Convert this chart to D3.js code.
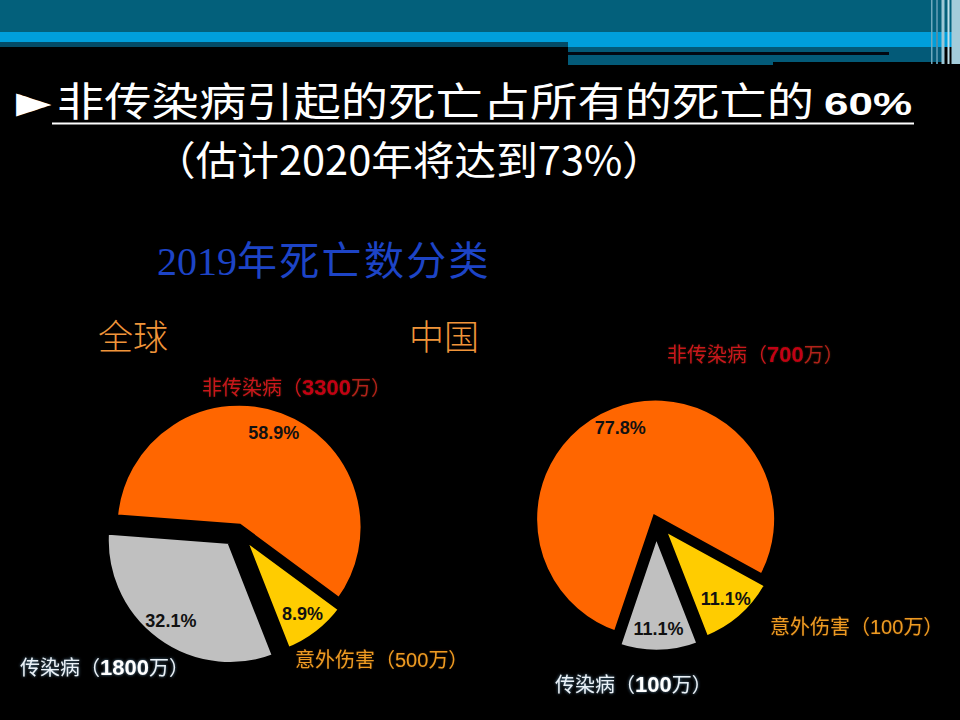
<!DOCTYPE html>
<html>
<head>
<meta charset="utf-8">
<script src="https://cdn.jsdelivr.net/npm/d3@7"></script>
<style>
  html, body { margin: 0; padding: 0; background: #000; }
  svg { display: block; }
</style>
</head>
<body>
<svg id="chart" width="960" height="720"></svg>
<script>
// ---- data ----
const categories = ['非传染病', '意外伤害', '传染病'];
const globalValues = [3300, 500, 1800];      // 万
const chinaValues = [700, 100, 100];         // 万
const globalPct = ['58.9%', '8.9%', '32.1%'];
const chinaPct = ['77.8%', '11.1%', '11.1%'];
const sliceColors = ['#FF6600', '#FFCC00', '#C0C0C0'];
const titleMain = '非传染病引起的死亡占所有的死亡的';
const titleMainPct = '60%';
const titleSub = '（估计2020年将达到73%）';
const chartTitle = '2019年死亡数分类';
const regionNames = ['全球', '中国'];

const svg = d3.select('#chart');
const CJK = '"Noto Sans CJK SC", "Noto Sans", sans-serif';

// background
svg.append('rect').attr('width', 960).attr('height', 720).attr('fill', '#000');

// ---- header decoration ----
const hdr = svg.append('g');
hdr.append('rect').attr('x', 0).attr('y', 0).attr('width', 960).attr('height', 32).attr('fill', '#03607B');
hdr.append('rect').attr('x', 0).attr('y', 32).attr('width', 960).attr('height', 10).attr('fill', '#009FDB');
hdr.append('rect').attr('x', 0).attr('y', 42).attr('width', 568).attr('height', 5).attr('fill', '#034B66');
hdr.append('rect').attr('x', 568).attr('y', 42).attr('width', 392).attr('height', 5).attr('fill', '#009FDB');
hdr.append('rect').attr('x', 568).attr('y', 47).attr('width', 375).attr('height', 15).attr('fill', '#035A78');
hdr.append('rect').attr('x', 568).attr('y', 62).attr('width', 205).attr('height', 3).attr('fill', '#035A78');
hdr.append('rect').attr('x', 568).attr('y', 52).attr('width', 321).attr('height', 3).attr('fill', '#020812');
[[931, 1.5, '#6FA9BE'], [936, 2, '#4F8FA8'], [941.5, 3, '#9CC7D6'], [947.5, 2, '#BFE0EA'], [951.5, 8.5, '#A4CCDA']]
  .forEach(([x, w, c]) => hdr.append('rect').attr('x', x).attr('y', 0).attr('width', w).attr('height', 64).attr('fill', c));

// ---- titles ----
svg.append('text').attr('x', 16).attr('y', 117)
  .attr('font-family', '"DejaVu Sans", sans-serif').attr('font-size', 46).attr('fill', '#fff')
  .text('►');
svg.append('text').attr('x', 57).attr('y', 116)
  .attr('font-family', CJK).attr('font-size', 40).attr('fill', '#fff')
  .attr('textLength', 757).attr('lengthAdjust', 'spacingAndGlyphs')
  .text(titleMain);
svg.append('text').attr('x', 824).attr('y', 115)
  .attr('font-family', '"Liberation Sans", Arial, sans-serif').attr('font-weight', 'bold')
  .attr('font-size', 31).attr('fill', '#fff')
  .attr('textLength', 88).attr('lengthAdjust', 'spacingAndGlyphs')
  .text(titleMainPct);
svg.append('line').attr('x1', 52).attr('x2', 914).attr('y1', 123.5).attr('y2', 123.5)
  .attr('stroke', '#fff').attr('stroke-width', 2);

svg.append('text').attr('x', 154).attr('y', 175)
  .attr('font-family', CJK).attr('font-size', 40).attr('fill', '#fff')
  .attr('textLength', 510).attr('lengthAdjust', 'spacingAndGlyphs')
  .text(titleSub);

const ct = svg.append('text').attr('x', 157).attr('y', 275)
  .attr('font-size', 40).attr('fill', '#1D44C6');
ct.append('tspan').attr('font-family', '"Liberation Serif", "DejaVu Serif", serif').text(chartTitle.slice(0, 4));
ct.append('tspan').attr('font-family', CJK).attr('letter-spacing', 2.3).text(chartTitle.slice(4));

[[98, regionNames[0]], [409, regionNames[1]]].forEach(([x, t]) => {
  svg.append('text').attr('x', x).attr('y', 350)
    .attr('font-family', CJK).attr('font-weight', 300).attr('font-size', 35)
    .attr('fill', '#F0953A').text(t);
});

// ---- glow filters ----
const defs = svg.append('defs');
function glow(id, color, dev, op) {
  const f = defs.append('filter').attr('id', id).attr('x', '-10%').attr('y', '-30%').attr('width', '120%').attr('height', '160%');
  f.append('feGaussianBlur').attr('in', 'SourceAlpha').attr('stdDeviation', dev).attr('result', 'b');
  f.append('feFlood').attr('flood-color', color).attr('flood-opacity', op);
  f.append('feComposite').attr('in2', 'b').attr('operator', 'in').attr('result', 'g');
  const m = f.append('feMerge');
  m.append('feMergeNode').attr('in', 'g');
  m.append('feMergeNode').attr('in', 'SourceGraphic');
}
glow('glowWhite', '#7FB8E0', 1.6, 0.7);
glow('glowWarm', '#5A2A00', 1.2, 0.6);

// ---- pies ----
const pies = [
  { values: globalValues, pct: globalPct, cx: 238, cy: 530, r: 125, start: -85.7, explode: [3, 6, 13],
    labels: [[202, 395], [295, 667], [20, 675]], boldNum: [true, false, true] },
  { values: chinaValues, pct: chinaPct, cx: 656, cy: 520, r: 122, start: -161.3, explode: [1, 8, 11],
    labels: [[667, 362], [770, 634], [555, 692]], boldNum: [true, false, true] }
];

const labelStyles = [
  { fill: '#C8141C', numFill: '#C20012', tailFill: '#B0201A', filter: 'url(#glowWarm)' },
  { fill: '#EE9A22', numFill: '#EE9A22', tailFill: '#EE9A22', filter: 'url(#glowWarm)' },
  { fill: '#EAF2F8', numFill: '#FFFFFF', tailFill: '#EAF2F8', filter: 'url(#glowWhite)' }
];

pies.forEach(p => {
  const rad = Math.PI / 180;
  const pieGen = d3.pie().sort(null).value(d => d)
    .startAngle(p.start * rad).endAngle(p.start * rad + 2 * Math.PI);
  const arcs = pieGen(p.values);
  const arc = d3.arc().innerRadius(0).outerRadius(p.r);
  const g = svg.append('g').attr('transform', `translate(${p.cx},${p.cy})`);

  arcs.forEach((a, i) => {
    const mid = (a.startAngle + a.endAngle) / 2;
    const dx = Math.sin(mid) * p.explode[i];
    const dy = -Math.cos(mid) * p.explode[i];
    const sg = g.append('g').attr('transform', `translate(${dx},${dy})`);
    sg.append('path').attr('d', arc(a))
      .attr('fill', sliceColors[i]).attr('stroke', '#000').attr('stroke-width', 7)
      .attr('stroke-linejoin', 'miter');
    const labelArc = d3.arc().innerRadius(p.r * 0.8).outerRadius(p.r * 0.8);
    const [lx, ly] = labelArc.centroid(a);
    sg.append('text').attr('x', lx).attr('y', ly)
      .attr('text-anchor', 'middle').attr('dominant-baseline', 'central')
      .attr('font-family', '"Liberation Sans", Arial, sans-serif').attr('font-weight', 'bold')
      .attr('font-size', 18).attr('fill', '#111')
      .text(p.pct[i]);
  });

  // category labels
  categories.forEach((c, i) => {
    const st = labelStyles[i];
    const t = svg.append('text').attr('x', p.labels[i][0]).attr('y', p.labels[i][1])
      .attr('font-family', CJK).attr('font-size', 20).attr('fill', st.fill)
      .attr('filter', st.filter);
    t.append('tspan').text(c + '（');
    t.append('tspan').attr('font-family', '"Liberation Sans Narrow", "Liberation Sans", Arial, sans-serif')
      .attr('font-weight', p.boldNum[i] ? 'bold' : 'normal').attr('fill', st.numFill)
      .attr('font-size', p.boldNum[i] ? 22 : 20)
      .text(p.values[i]);
    t.append('tspan').attr('fill', st.tailFill).attr('font-size', 20).text('万）');
  });
});
</script>
</body>
</html>
